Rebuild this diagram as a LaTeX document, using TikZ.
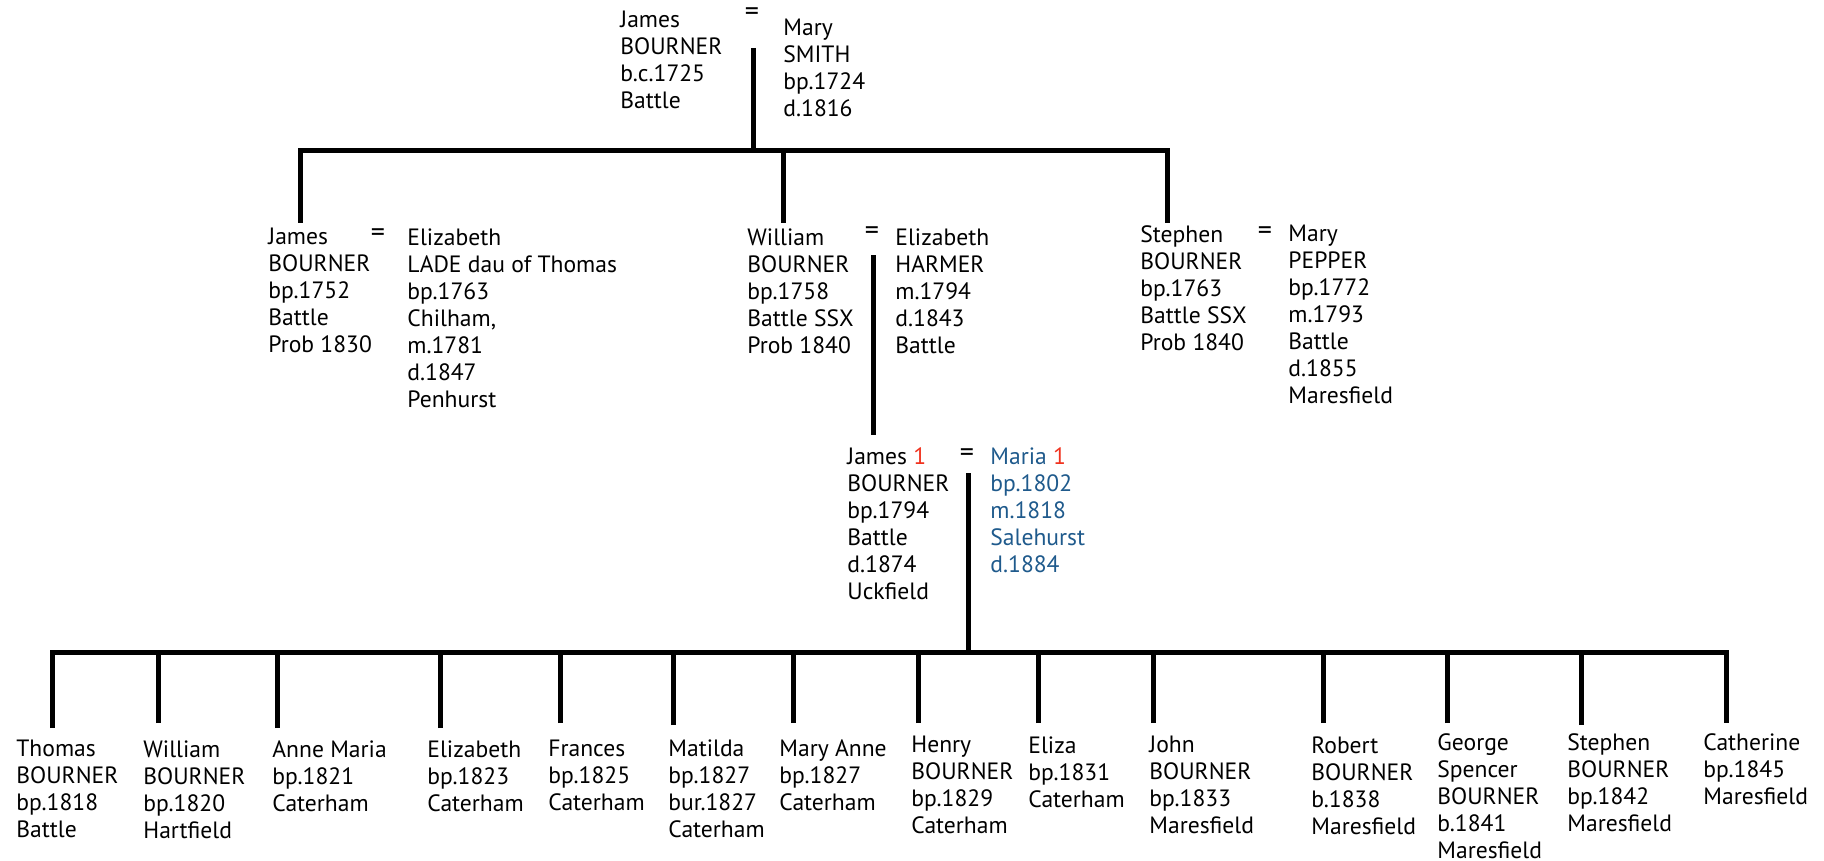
\documentclass[tikz,border=0pt]{standalone}
\usepackage{fontspec}
\setmainfont{PT Sans}
\definecolor{spouseblue}{RGB}{31,90,140}
\definecolor{tagred}{RGB}{240,50,30}
\tikzset{
  person/.style={anchor=north west, inner sep=0pt, align=left, font=\fontsize{11.8}{13.5}\selectfont},
  spouse/.style={person, text=spouseblue},
  eq/.style={inner sep=0pt, font=\fontsize{14}{14}\selectfont},
  tie/.style={line width=2.5pt}
}
\begin{document}
\begin{tikzpicture}[x=0.5pt,y=-0.5pt]
\useasboundingbox (0,0) rectangle (1824,861);
% first generation
\node[person](jamesA) at (620,11){James\\BOURNER\\b.c.1725\\Battle};
\node[eq](eqA) at (752,14){=};
\node[person](maryA) at (783,19){Mary\\SMITH\\bp.1724\\d.1816};
\coordinate (mA) at (753,48);
\coordinate (barA) at (753,151);
\coordinate (kA) at (300,223);
\coordinate (kB) at (783,151);
\coordinate (kBend) at (783,223);
\coordinate (kC) at (1167,223);
\draw[tie] (mA) -- (barA);
\draw[tie] (kA) |- (barA) -| (kC);
\draw[tie] (kB) -- (kBend);
% second generation
\node[person](jamesB) at (268,228){James\\BOURNER\\bp.1752\\Battle\\Prob 1830};
\node[eq](eqB) at (378,235){=};
\node[person](elizabethB) at (407,228){Elizabeth\\LADE dau of Thomas\\bp.1763\\Chilham,\\m.1781\\d.1847\\Penhurst};
\node[person](williamB) at (747,228){William\\BOURNER\\bp.1758\\Battle SSX\\Prob 1840};
\node[eq](eqC) at (872,233){=};
\node[person](elizabethC) at (895,228){Elizabeth\\HARMER\\m.1794\\d.1843\\Battle};
\node[person](stephenB) at (1140,225){Stephen\\BOURNER\\bp.1763\\Battle SSX\\Prob 1840};
\node[eq](eqD) at (1265,233){=};
\node[person](maryB) at (1288,225){Mary\\PEPPER\\bp.1772\\m.1793\\Battle\\d.1855\\Maresfield};
\coordinate (mC) at (873,255);
\draw[tie] (mC) -- (873,435);
% third generation
\node[person](jamesC) at (847,447){James {\color{tagred}1}\\BOURNER\\bp.1794\\Battle\\d.1874\\Uckfield};
\node[eq](eqE) at (967,455){=};
\node[spouse](mariaC) at (990,447){Maria {\color{tagred}1}\\bp.1802\\m.1818\\Salehurst\\d.1884};
\coordinate (mE) at (968,473);
\coordinate (barC) at (968,652);
\draw[tie] (mE) -- (barC);
% children
\coordinate (c1) at (52,728);
\coordinate (c2) at (158,723);
\coordinate (c3) at (277,728);
\coordinate (c4) at (440,728);
\coordinate (c5) at (560,723);
\coordinate (c6) at (673,725);
\coordinate (c7) at (793,723);
\coordinate (c8) at (918,723);
\coordinate (c9) at (1038,723);
\coordinate (c10) at (1153,723);
\coordinate (c11) at (1323,723);
\coordinate (c12) at (1447,723);
\coordinate (c13) at (1581,725);
\coordinate (c14) at (1726,723);
\draw[tie] (c1) |- (barC) -| (c14);
\draw[tie] (c2) -- (c2 |- barC);
\draw[tie] (c3) -- (c3 |- barC);
\draw[tie] (c4) -- (c4 |- barC);
\draw[tie] (c5) -- (c5 |- barC);
\draw[tie] (c6) -- (c6 |- barC);
\draw[tie] (c7) -- (c7 |- barC);
\draw[tie] (c8) -- (c8 |- barC);
\draw[tie] (c9) -- (c9 |- barC);
\draw[tie] (c10) -- (c10 |- barC);
\draw[tie] (c11) -- (c11 |- barC);
\draw[tie] (c12) -- (c12 |- barC);
\draw[tie] (c13) -- (c13 |- barC);
\node[person](thomas) at (16,740){Thomas\\BOURNER\\bp.1818\\Battle};
\node[person](william) at (143,740){William\\BOURNER\\bp.1820\\Hartfield};
\node[person](annemaria) at (272,740){Anne Maria\\bp.1821\\Caterham};
\node[person](elizabeth) at (427,740){Elizabeth\\bp.1823\\Caterham};
\node[person](frances) at (548,740){Frances\\bp.1825\\Caterham};
\node[person](matilda) at (668,739){Matilda\\bp.1827\\bur.1827\\Caterham};
\node[person](maryanne) at (779,739){Mary Anne\\bp.1827\\Caterham};
\node[person](henry) at (911,736){Henry\\BOURNER\\bp.1829\\Caterham};
\node[person](eliza) at (1028,736){Eliza\\bp.1831\\Caterham};
\node[person](john) at (1149,736){John\\BOURNER\\bp.1833\\Maresfield};
\node[person](robert) at (1311,736){Robert\\BOURNER\\b.1838\\Maresfield};
\node[person](george) at (1437,733){George\\Spencer\\BOURNER\\b.1841\\Maresfield};
\node[person](stephen) at (1567,733){Stephen\\BOURNER\\bp.1842\\Maresfield};
\node[person](catherine) at (1703,733){Catherine\\bp.1845\\Maresfield};
\end{tikzpicture}
\end{document}
